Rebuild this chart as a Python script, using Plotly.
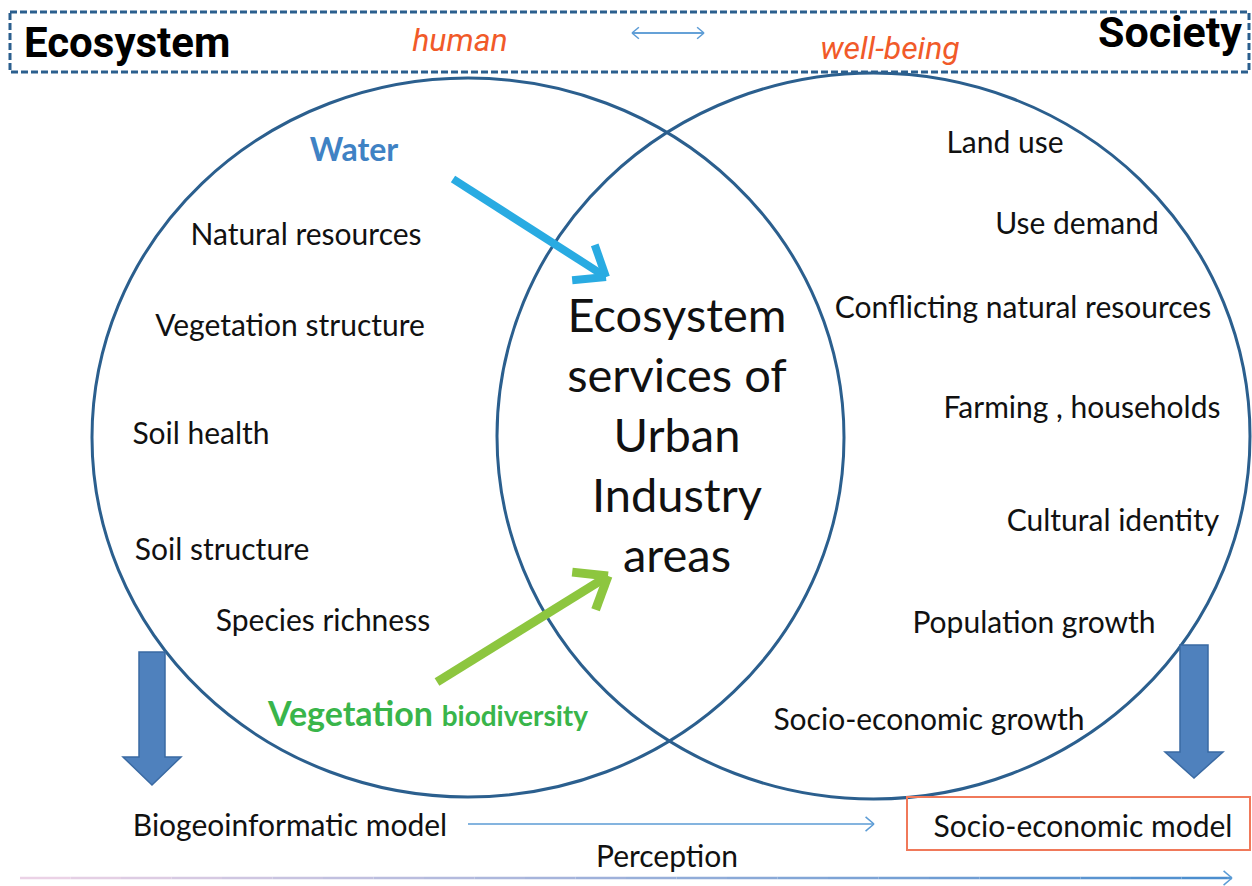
import math
import plotly.graph_objects as go

W, H = 1252, 886

# ---------------- text content ----------------
banner_left = "Ecosystem"
banner_right = "Society"
banner_mid = ["human", "well-being"]

left_items = ["Natural resources", "Vegetation structure", "Soil health",
              "Soil structure", "Species richness"]
right_items = ["Land use", "Use demand", "Conflicting natural resources",
               "Farming , households", "Cultural identity", "Population growth",
               "Socio-economic growth"]
center_lines = ["Ecosystem", "services of", "Urban", "Industry", "areas"]
water_label = "Water"
veg_label = ["Vegetation", "biodiversity"]
bottom_labels = ["Biogeoinformatic model", "Socio-economic model", "Perception"]

# ---------------- layout positions (pixels) ----------------
TY = 3  # vertical text baseline correction
left_xy = [(306, 234), (290, 325), (201, 433), (222, 549), (323, 620)]
right_xy = [(1005, 142), (1077, 223), (1023, 307), (1082, 407), (1113, 520),
            (1034, 622), (929, 719)]
center_x, center_y0, center_dy = 677, 317, 60

LEFT_CIRCLE = (92, 78, 844, 797)
RIGHT_CIRCLE = (497, 73, 1250, 799)

BLUE_DARK = "#2b5f8e"
ARROW_BLUE = "#5b9bd5"
ORANGE = "#f15a29"

fig = go.Figure()

# dashed banner box
fig.add_shape(type="rect", x0=10, y0=12, x1=1249, y1=72, xref="x", yref="y",
              line=dict(color=BLUE_DARK, width=3, dash="7px,3px"))

# circles
for (x0, y0, x1, y1) in (LEFT_CIRCLE, RIGHT_CIRCLE):
    fig.add_shape(type="circle", x0=x0, y0=y0, x1=x1, y1=y1, xref="x", yref="y",
                  line=dict(color=BLUE_DARK, width=3))

# orange box
fig.add_shape(type="rect", x0=907, y0=797, x1=1250, y1=850, xref="x", yref="y",
              line=dict(color="#f0795a", width=2))


def chevron_arrow(tail, tip, color, width, arm, angle_deg):
    tx, ty = tail
    hx, hy = tip
    fig.add_shape(type="line", x0=tx, y0=ty, x1=hx, y1=hy, xref="x", yref="y",
                  line=dict(color=color, width=width))
    dx, dy = tx - hx, ty - hy
    L = math.hypot(dx, dy)
    ux, uy = dx / L, dy / L
    for s in (1, -1):
        a = math.radians(angle_deg) * s
        rx = ux * math.cos(a) - uy * math.sin(a)
        ry = ux * math.sin(a) + uy * math.cos(a)
        fig.add_shape(type="line", x0=hx, y0=hy, x1=hx + rx * arm, y1=hy + ry * arm,
                      xref="x", yref="y", line=dict(color=color, width=width))


# water & vegetation arrows
chevron_arrow((453, 179), (606, 277), "#29abe2", 8, 34, 38)
chevron_arrow((437, 682), (608, 576), "#8dc63f", 9, 36, 38)

# top double arrow
chevron_arrow((632, 33), (704, 33), ARROW_BLUE, 1.5, 9, 40)
chevron_arrow((704, 33), (632, 33), ARROW_BLUE, 1.5, 9, 40)

# biogeo -> socio arrow
chevron_arrow((468, 824), (874, 824), ARROW_BLUE, 1.5, 11, 40)

# long perception arrow with fading colour
segs = 24
x_start, x_end, y_long = 20, 1232, 878
for i in range(segs):
    f0 = i / segs
    f1 = (i + 1) / segs
    t = f0
    r = int(235 + (70 - 235) * t)
    g = int(210 + (140 - 210) * t)
    b = int(230 + (205 - 230) * t)
    fig.add_shape(type="line", x0=x_start + (x_end - x_start) * f0, y0=y_long,
                  x1=x_start + (x_end - x_start) * f1, y1=y_long, xref="x", yref="y",
                  line=dict(color=f"rgb({r},{g},{b})", width=2.5))
chevron_arrow((x_end - 5, y_long), (x_end, y_long), ARROW_BLUE, 1.5, 11, 40)


def block_arrow(cx, top, head_y, tip, shaft_half, head_half):
    path = (f"M {cx - shaft_half} {top} L {cx + shaft_half} {top} "
            f"L {cx + shaft_half} {head_y} L {cx + head_half} {head_y} "
            f"L {cx} {tip} L {cx - head_half} {head_y} L {cx - shaft_half} {head_y} Z")
    fig.add_shape(type="path", path=path, xref="x", yref="y",
                  fillcolor="#4f81bd", line=dict(color="#3a6aa3", width=1.5))


block_arrow(152, 652, 757, 785, 13, 29)
block_arrow(1194, 645, 752, 778, 14, 29)

BODY_FONT = "Lato"
BODY_SIZE = 30

# left / right items
fig.add_trace(go.Scatter(
    x=[p[0] for p in left_xy] + [p[0] for p in right_xy],
    y=[p[1] + TY for p in left_xy] + [p[1] + TY for p in right_xy],
    text=left_items + right_items, mode="text", textposition="middle center",
    textfont=dict(family=BODY_FONT, size=BODY_SIZE, color="#111111"),
    hoverinfo="skip", showlegend=False))

# center block
fig.add_trace(go.Scatter(
    x=[center_x] * len(center_lines),
    y=[center_y0 + TY + i * center_dy for i in range(len(center_lines))],
    text=center_lines, mode="text", textposition="middle center",
    textfont=dict(family=BODY_FONT, size=47, color="#111111"),
    hoverinfo="skip", showlegend=False))

# water
fig.add_trace(go.Scatter(
    x=[354], y=[150 + TY], text=[f"<b>{water_label}</b>"], mode="text",
    textposition="middle center",
    textfont=dict(family=BODY_FONT, size=32, color="#3f82c4"),
    hoverinfo="skip", showlegend=False))

# vegetation biodiversity
fig.add_trace(go.Scatter(
    x=[428], y=[714 + TY],
    text=[f"<b>{veg_label[0]}</b> <b><span style='font-size:28px'>{veg_label[1]}</span></b>"],
    mode="text", textposition="middle center",
    textfont=dict(family=BODY_FONT, size=34, color="#39b54a"),
    hoverinfo="skip", showlegend=False))

# bottom labels
fig.add_trace(go.Scatter(
    x=[290, 1083, 667], y=[825 + TY, 826 + TY, 856 + TY], text=bottom_labels, mode="text",
    textposition="middle center",
    textfont=dict(family=BODY_FONT, size=BODY_SIZE, color="#111111"),
    hoverinfo="skip", showlegend=False))

# banner texts
fig.add_trace(go.Scatter(
    x=[24], y=[46], text=[f"<b>{banner_left}</b>"], mode="text",
    textposition="middle right",
    textfont=dict(family="Roboto", size=42, color="#000000"),
    hoverinfo="skip", showlegend=False))
fig.add_trace(go.Scatter(
    x=[1242], y=[36], text=[f"<b>{banner_right}</b>"], mode="text",
    textposition="middle left",
    textfont=dict(family="Roboto", size=43, color="#000000"),
    hoverinfo="skip", showlegend=False))
fig.add_trace(go.Scatter(
    x=[460, 890], y=[43, 51], text=[f"<i>{t}</i>" for t in banner_mid], mode="text",
    textposition="middle center",
    textfont=dict(family="Liberation Sans Narrow, Roboto", size=32, color=ORANGE),
    hoverinfo="skip", showlegend=False))

fig.update_layout(
    width=W, height=H, margin=dict(l=0, r=0, t=0, b=0),
    paper_bgcolor="white", plot_bgcolor="white",
    xaxis=dict(range=[0, W], visible=False, fixedrange=True),
    yaxis=dict(range=[H, 0], visible=False, fixedrange=True),
    showlegend=False,
)

fig.write_html("out.html", config={"displayModeBar": False},
               post_script="document.body.style.margin='0';")
